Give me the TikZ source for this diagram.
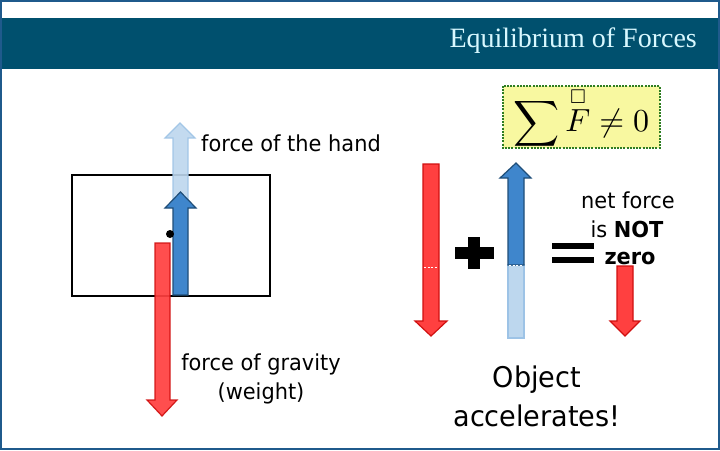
\documentclass[tikz,border=0pt]{standalone}
\usepackage{fontspec}
\usepackage{amsmath,amssymb}
\setmainfont{Liberation Serif}
\newfontfamily\tah[FakeStretch=0.95]{DejaVu Sans}
\definecolor{band}{HTML}{00506E}
\definecolor{frameblue}{HTML}{1F5A8C}
\definecolor{titlecol}{HTML}{D8F8FF}
\definecolor{redfill}{HTML}{FF4040}
\definecolor{redline}{HTML}{D01010}
\definecolor{bluefill}{HTML}{3F86CC}
\definecolor{blueline}{HTML}{1F4E79}
\definecolor{lbluefill}{HTML}{BDD7EE}
\definecolor{lblueline}{HTML}{9DC3E6}
\definecolor{boxfill}{HTML}{F8F8A0}
\definecolor{boxline}{HTML}{2E7D22}
\tikzset{
  redarrow/.style={fill=redfill, draw=redline, line width=1.2pt, line join=miter},
  bluearrow/.style={fill=bluefill, draw=blueline, line width=1.2pt, line join=miter},
  lbluearrow/.style={fill=lbluefill, draw=lblueline, line width=1.2pt, line join=miter},
  lbl/.style={font=\tah\fontsize{22}{26}\selectfont, inner sep=0pt},
  biglbl/.style={font=\tah\fontsize{28.5}{32}\selectfont, inner sep=0pt},
  seam/.style={draw=white, line width=0.6pt, dash pattern=on 2pt off 1.5pt},
}
\begin{document}
\begin{tikzpicture}[x=1pt,y=-1pt]
\useasboundingbox (0,0) rectangle (720,450);
\fill[white] (0,0) rectangle (720,450);
% header
\fill[band] (0,18) rectangle (720,69);
\node[anchor=east, text=titlecol, font=\fontsize{28}{32}\selectfont, inner sep=0pt] (title) at (697,41) {Equilibrium of Forces};
% frame
\draw[frameblue, line width=2pt] (1,1) rectangle (719,449);

% ---------- left part ----------
\draw[black, line width=2.2pt] (72,175) rectangle (270,296);
% light blue (hand, full)
\path[lbluearrow, opacity=0.9] (173,200) -- (173,138) -- (165,138) -- (180,123) -- (195,138) -- (188,138) -- (188,200) -- cycle;
% dark blue
\path[bluearrow] (173,295) -- (173,208) -- (165,208) -- (180.5,192) -- (196,208) -- (188,208) -- (188,295) -- cycle;
% dot
\fill[black] (170,234) circle (4);
% red gravity
\path[redarrow, opacity=0.92] (155,243) -- (170,243) -- (170,400) -- (177,400) -- (162,416) -- (147,400) -- (155,400) -- cycle;

\node[lbl, anchor=west] (hand) at (201,143) {force of the hand};
\node[lbl] (grav1) at (261,364) {force of gravity};
\node[lbl] (grav2) at (261,393) {(weight)};

% ---------- right part ----------
% formula box
\draw[fill=boxfill, draw=boxline, line width=2.2pt, dash pattern=on 2pt off 1.2pt] (503,86) rectangle (660,148);
\node[inner sep=0pt, scale=3.2] (sum) at (581.5,118) {$\displaystyle\sum \overset{\scriptscriptstyle\square}{F} \neq 0$};

% red arrow 1
\path[redarrow] (423,164) -- (439,164) -- (439,321) -- (447,321) -- (431,336) -- (415,321) -- (423,321) -- cycle;
\draw[seam] (424,267) -- (438,267);
% light blue lower part
\path[lbluearrow] (508,265) -- (524,265) -- (524,338) -- (508,338) -- cycle;
% blue arrow
\path[bluearrow] (508,265) -- (508,178) -- (500,178) -- (516,163) -- (531,178) -- (524,178) -- (524,265) -- cycle;
\draw[seam] (509,265.5) -- (523,265.5);
% plus
\fill[black] (455,247) rectangle (494,259);
\fill[black] (468,237) rectangle (480,269);
% equals
\fill[black] (552,243) rectangle (594,249);
\fill[black] (552,257) rectangle (594,263);
% net red arrow
\path[redarrow] (617,266) -- (633,266) -- (633,321) -- (640,321) -- (625,336) -- (610,321) -- (617,321) -- cycle;

\node[lbl] (net1) at (628,200) {net force};
\node[lbl] (net2) at (627,229) {is \textbf{NOT}};
\node[lbl] (net3) at (630,258) {\textbf{zero}};

\node[biglbl] (obj1) at (537,380) {Object};
\node[biglbl] (obj2) at (537,416) {accelerates!};
\end{tikzpicture}
\end{document}
